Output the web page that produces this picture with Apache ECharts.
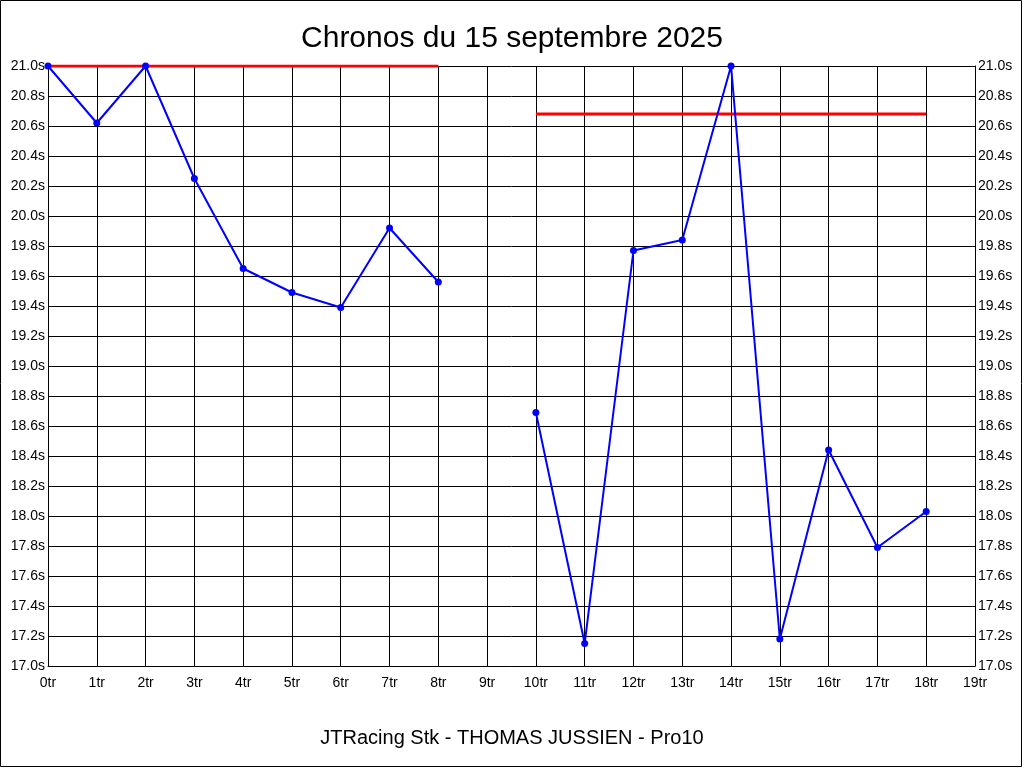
<!DOCTYPE html>
<html>
<head>
<meta charset="utf-8">
<script src="https://cdn.jsdelivr.net/npm/echarts@6/dist/echarts.min.js"></script>
<style>
html,body{margin:0;padding:0;background:#fff;}
#c{width:1024px;height:768px;}
</style>
</head>
<body>
<div id="c"></div>
<script>
const titleText = 'Chronos du 15 septembre 2025';
const subtitleText = 'JTRacing Stk - THOMAS JUSSIEN - Pro10';
const categories = ['0tr','1tr','2tr','3tr','4tr','5tr','6tr','7tr','8tr','9tr','10tr','11tr','12tr','13tr','14tr','15tr','16tr','17tr','18tr','19tr'];
const lapTimes = [21.0, 20.62, 21.0, 20.25, 19.65, 19.49, 19.39, 19.92, 19.56, null, 18.69, 17.15, 19.77, 19.84, 21.0, 17.18, 18.44, 17.79, 18.03, null];
const refLine1 = [21.0, 21.0, 21.0, 21.0, 21.0, 21.0, 21.0, 21.0, 21.0, null, null, null, null, null, null, null, null, null, null, null];
const refLine2 = [null, null, null, null, null, null, null, null, null, null, 20.68, 20.68, 20.68, 20.68, 20.68, 20.68, 20.68, 20.68, 20.68, null];
const yMin = 17.0, yMax = 21.0, yStep = 0.2;

const chart = echarts.init(document.getElementById('c'), null, {renderer:'canvas'});
const fontFam = '"Liberation Sans", Arial, sans-serif';
const yLabel = v => v.toFixed(1) + 's';
const yAxisCommon = {
  type: 'value', min: yMin, max: yMax, interval: yStep,
  axisLine: {show: true, lineStyle: {color: '#000', width: 1}},
  axisTick: {show: false},
  splitLine: {show: true, lineStyle: {color: '#000', width: 1}},
  axisLabel: {color: '#000', fontSize: 14, fontFamily: fontFam, margin: 3, formatter: yLabel}
};
chart.setOption({
  animation: false,
  backgroundColor: '#fff',
  title: [
    {text: titleText, left: 'center', top: 19, textStyle: {fontSize: 30, fontWeight: 'normal', color: '#000', fontFamily: fontFam}},
    {text: subtitleText, left: 'center', top: 723, textStyle: {fontSize: 20, fontWeight: 'normal', color: '#000', fontFamily: fontFam}}
  ],
  graphic: [{type: 'rect', shape: {x: 0.5, y: 0.5, width: 1021, height: 766}, style: {fill: 'none', stroke: '#000', lineWidth: 1}, silent: true, z: 100}],
  grid: {left: 48, right: 49, top: 66, bottom: 102, containLabel: false},
  xAxis: {
    type: 'category', data: categories, boundaryGap: false,
    axisLine: {show: true, lineStyle: {color: '#000', width: 1}},
    axisTick: {show: false},
    splitLine: {show: true, lineStyle: {color: '#000', width: 1}},
    axisLabel: {color: '#000', fontSize: 14, fontFamily: fontFam, margin: 10, interval: 0}
  },
  yAxis: [
    Object.assign({}, yAxisCommon, {position: 'left'}),
    Object.assign({}, yAxisCommon, {position: 'right', splitLine: {show: false}})
  ],
  series: [
    {type: 'line', data: refLine1, showSymbol: false, lineStyle: {color: '#ff0000', width: 3}, itemStyle: {color: '#ff0000'}, z: 2},
    {type: 'line', data: refLine2, showSymbol: false, lineStyle: {color: '#ff0000', width: 3}, itemStyle: {color: '#ff0000'}, z: 2},
    {type: 'line', data: lapTimes, connectNulls: false, symbol: 'circle', symbolSize: 7, showAllSymbol: true,
     lineStyle: {color: '#0000ff', width: 2}, itemStyle: {color: '#0000ff'}, z: 3}
  ]
});
</script>
</body>
</html>
